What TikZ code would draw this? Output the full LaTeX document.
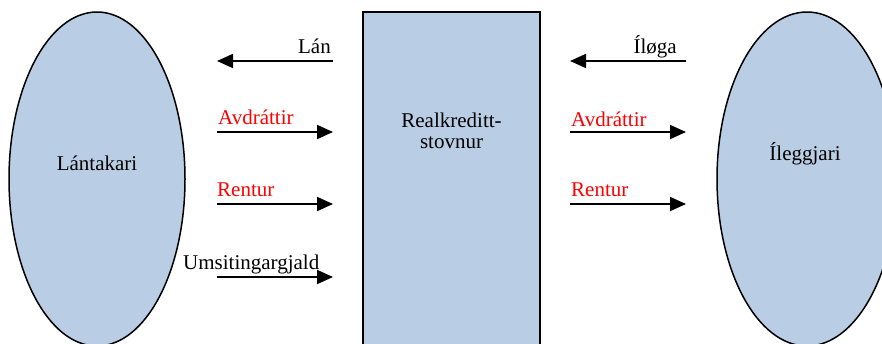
\documentclass[tikz,border=0pt]{standalone}
\usepackage{fontspec}
\setmainfont{Liberation Serif}
\newfontfamily\diagfont{Liberation Serif}
\usetikzlibrary{arrows.meta,shapes.geometric}
\definecolor{fillblue}{HTML}{B9CDE5}
\definecolor{labred}{HTML}{FF0000}
\begin{document}
\begin{tikzpicture}[x=1pt,y=-1pt,
  blob/.style={ellipse,draw=black,line width=1.5pt,fill=fillblue,inner sep=0pt},
  bank/.style={rectangle,draw=black,line width=1.5pt,fill=fillblue,inner sep=0pt},
  flow/.style={line width=1.8pt,-{Triangle[length=16pt,width=14pt]}},
  lbl/.style={font=\diagfont\fontsize{21}{23}\selectfont,inner sep=0pt},
  redlbl/.style={lbl,text=labred}]
\useasboundingbox (0,0) rectangle (882,343);
\clip (0,0) rectangle (882,343);
\node[blob,minimum width=176pt,minimum height=334pt] (lan) at (97,179) {};
\node[blob,minimum width=180pt,minimum height=334pt] (ile) at (807,179) {};
\node[bank,minimum width=177pt,minimum height=360pt] (rk) at (451.5,192) {};
\node[lbl,anchor=base] (lantxt) at (97,170) {Lántakari};
\node[lbl,anchor=base] (iletxt) at (805,160) {Íleggjari};
\node[lbl,align=center] (rktxt) at (451.5,131) {Realkreditt-\\[-2pt]stovnur};
% left side coordinates
\coordinate (l1a) at (333,61); \coordinate (l1b) at (217,61);
\coordinate (l2a) at (217,132); \coordinate (l2b) at (333,132);
\coordinate (l3a) at (217,204); \coordinate (l3b) at (333,204);
\coordinate (l4a) at (217,277); \coordinate (l4b) at (333,277);
% right side coordinates
\coordinate (r1a) at (686,61); \coordinate (r1b) at (570,61);
\coordinate (r2a) at (570,132); \coordinate (r2b) at (686,132);
\coordinate (r3a) at (570,204); \coordinate (r3b) at (686,204);
\draw[flow] (l1a) -- (l1b);
\draw[flow] (l2a) -- (l2b);
\draw[flow] (l3a) -- (l3b);
\draw[flow] (l4a) -- (l4b);
\draw[flow] (r1a) -- (r1b);
\draw[flow] (r2a) -- (r2b);
\draw[flow] (r3a) -- (r3b);
\node[lbl,anchor=base east] (tlan) at (331,53) {Lán};
\node[redlbl,anchor=base west] (tav1) at (218,124) {Avdráttir};
\node[redlbl,anchor=base west] (tre1) at (217,196) {Rentur};
\node[lbl,anchor=base west] (tums) at (183,269) {Umsitingargjald};
\node[lbl,anchor=base east] (tilo) at (677,53) {Íløga};
\node[redlbl,anchor=base west] (tav2) at (571,126) {Avdráttir};
\node[redlbl,anchor=base west] (tre2) at (571,196) {Rentur};
\end{tikzpicture}
\end{document}
